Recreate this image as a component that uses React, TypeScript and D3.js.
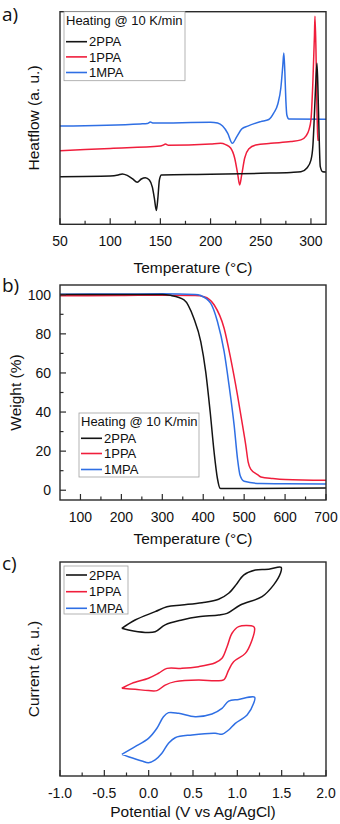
import React from 'react';
import * as d3 from 'd3';

type P = [number, number];

const seriesNames = ['2PPA', '1PPA', '1MPA'];
const seriesColors = ['#141414', '#f01e3c', '#2f6fe4'];
const legendTitle = 'Heating @ 10 K/min';

// Panel a: DSC (Temperature °C, heat flow a.u.)
const dscXTicks = [50, 100, 150, 200, 250, 300];
const dscXMinor = [75, 125, 175, 225, 275];
const dsc2PPA: P[] = [
  [50, 22.4], [100, 22.7], [108, 23.2], [112, 23.7], [117, 23.0], [122, 21.5], [127, 19.8],
  [131, 21.3], [135, 21.9], [139, 20.8], [142, 17.5], [144, 12.3], [146, 6.5], [147.5, 12.3],
  [149, 20.8], [151, 23.2], [200, 23.5], [250, 24.0], [280, 24.4], [290, 24.7], [296, 26.5],
  [300, 30.2], [302, 37.3], [303, 46.7], [304.5, 63.2], [306, 75.7], [307, 63.2], [308, 44.4],
  [309.3, 27.1], [311.7, 24.7], [315, 24.6],
];
const dsc1PPA: P[] = [
  [50, 34.6], [100, 35.7], [150, 36.8], [153, 37.3], [155, 37.8], [158, 37.2], [200, 37.8],
  [210, 38.1], [215, 37.5], [220, 35.9], [224, 31.2], [227, 23.7], [229, 18.5], [231, 23.2],
  [234, 31.2], [238, 35.4], [245, 37.3], [260, 38.1], [280, 38.9], [290, 39.7], [295, 41.5],
  [298, 44.4], [300, 49.1], [302, 67.9], [303.5, 89.0], [304, 97.9], [305, 82.0], [306, 53.7],
  [306.7, 42.0], [307.3, 39.2],
];
const dsc1MPA: P[] = [
  [50, 46.2], [130, 47.2], [137, 47.4], [140, 48.1], [143, 47.6], [200, 48.0], [207, 47.6],
  [212, 46.2], [217, 42.9], [221.7, 38.1], [226, 41.1], [231, 44.8], [237, 46.2], [250, 48.3],
  [258, 49.3], [263, 52.4], [267, 56.6], [270, 64.1], [272, 74.9], [273, 80.6], [274, 71.6],
  [275, 58.4], [276, 51.4], [278, 49.5], [315, 49.4],
];

// Panel b: TGA (Temperature °C, weight %)
const tgaXTicks = [100, 200, 300, 400, 500, 600, 700];
const tgaXMinor = [150, 250, 350, 450, 550, 650];
const tgaYTicks = [0, 20, 40, 60, 80, 100];
const tgaYMinor = [10, 30, 50, 70, 90];
const tga2PPA: P[] = [
  [50, 100.1], [200, 100.2], [300, 100.2], [320, 99.7], [353, 97.4], [377, 88], [394, 76],
  [406, 60.7], [417, 40], [426.5, 19.6], [434.7, 6], [441, 1.0], [445, 0.9], [700, 1.1],
];
const tga1PPA: P[] = [
  [50, 99.5], [200, 99.6], [300, 99.8], [380, 99.6], [402, 99.0], [426.5, 94.9], [451, 82.9],
  [467, 67.5], [483.7, 48.7], [496, 33.3], [504, 23], [509.7, 14.5], [516, 10.8], [532.6, 8.0],
  [541, 6.8], [570, 6.0], [600, 5.5], [700, 5.1],
];
const tga1MPA: P[] = [
  [50, 100.3], [200, 100.4], [300, 100.5], [380, 100.2], [394, 99.6], [418, 95.7], [434.7, 86.3],
  [451, 71], [463, 53.8], [475.5, 33.3], [483.7, 16.2], [490, 7.7], [500, 4.6], [540.8, 3.4],
  [600, 3.3], [700, 3.2],
];

// Panel c: CV (Potential V vs Ag/AgCl, current a.u.)
const cvXTicks = [-1.0, -0.5, 0.0, 0.5, 1.0, 1.5, 2.0];
const cvXTickLabels = ['-1.0', '-0.5', '0.0', '0.5', '1.0', '1.5', '2.0'];
const cvXMinor = [-0.75, -0.25, 0.25, 0.75, 1.25, 1.75];
const cv2PPA: P[] = [
  [-0.303, 6.90], [-0.153, 7.29], [0.073, 7.68], [0.206, 7.91], [0.375, 7.99], [0.601, 8.10],
  [0.789, 8.26], [0.902, 8.54], [0.997, 9.00], [1.071, 9.39], [1.203, 9.63], [1.354, 9.66],
  [1.494, 9.75], [1.486, 9.47], [1.410, 8.93], [1.279, 8.38], [1.034, 7.99], [0.884, 7.60],
  [0.789, 7.52], [0.563, 7.44], [0.375, 7.29], [0.186, 7.06], [0.073, 6.74], [-0.040, 6.71],
  [-0.228, 6.82], [-0.303, 6.90],
];
const cv1PPA: P[] = [
  [-0.303, 4.10], [-0.190, 4.33], [-0.002, 4.57], [0.111, 4.80], [0.206, 5.03], [0.375, 5.03],
  [0.563, 5.11], [0.751, 5.29], [0.827, 5.50], [0.884, 6.04], [0.940, 6.67], [1.015, 6.98],
  [1.184, 6.98], [1.195, 6.90], [1.166, 6.36], [1.090, 5.73], [0.958, 5.34], [0.902, 4.95],
  [0.845, 4.49], [0.751, 4.45], [0.563, 4.49], [0.299, 4.41], [0.186, 4.25], [0.093, 3.99],
  [-0.002, 3.99], [-0.153, 4.05], [-0.303, 4.10],
];
const cv1MPA: P[] = [
  [-0.303, 1.01], [-0.153, 1.37], [-0.002, 1.76], [0.093, 2.23], [0.167, 2.77], [0.224, 2.96],
  [0.337, 2.93], [0.525, 2.77], [0.714, 2.90], [0.827, 3.16], [0.902, 3.50], [1.015, 3.58],
  [1.195, 3.68], [1.184, 3.40], [1.110, 2.85], [0.977, 2.46], [0.902, 2.15], [0.827, 1.95],
  [0.751, 2.00], [0.488, 1.92], [0.299, 1.79], [0.224, 1.53], [0.149, 1.06], [0.073, 0.75],
  [-0.002, 0.62], [-0.077, 0.70], [-0.228, 0.90], [-0.303, 1.01],
];

const FONT = '"Liberation Sans", Arial, sans-serif';
const FRAME = '#2a2a2a';
const L = 60, R = 326;

type Frame = { top: number; bottom: number };

function XTicks({ x, f, majors, minors, labels }: { x: d3.ScaleLinear<number, number>; f: Frame; majors: number[]; minors: number[]; labels?: string[] }) {
  return (
    <g>
      {majors.map((v, i) => (
        <g key={'M' + i}>
          <line x1={x(v)} x2={x(v)} y1={f.bottom} y2={f.bottom - 6} stroke={FRAME} strokeWidth={1.2} />
          <text x={x(v)} y={f.bottom + 22} textAnchor="middle" fontSize={14} fontFamily={FONT} fill="#111">
            {labels ? labels[i] : String(v)}
          </text>
        </g>
      ))}
      {minors.map((v, i) => (
        <line key={'m' + i} x1={x(v)} x2={x(v)} y1={f.bottom} y2={f.bottom - 3.5} stroke={FRAME} strokeWidth={1.2} />
      ))}
    </g>
  );
}

function Legend({ x, y, w, h, title, rows }: { x: number; y: number; w: number; h: number; title?: string; rows: number[] }) {
  return (
    <g>
      <rect x={x} y={y} width={w} height={h} fill="#fff" stroke="#a0a0a0" strokeWidth={0.8} />
      {title && (
        <text x={x + 2} y={y + 13} fontSize={13} fontFamily={FONT} fill="#111">{title}</text>
      )}
      {seriesNames.map((n, i) => (
        <g key={n}>
          <line x1={x + 2} x2={x + 23} y1={rows[i]} y2={rows[i]} stroke={seriesColors[i]} strokeWidth={1.6} />
          <text x={x + 25} y={rows[i] + 4.6} fontSize={13} fontFamily={FONT} fill="#111">{n}</text>
        </g>
      ))}
    </g>
  );
}

function PanelA() {
  const f = { top: 11.7, bottom: 224.3 };
  const x = d3.scaleLinear().domain([50, 315]).range([L, R]);
  const y = d3.scaleLinear().domain([0, 100]).range([f.bottom, f.top]);
  const line = d3.line<P>().x(d => x(d[0])).y(d => y(d[1])).curve(d3.curveMonotoneX);
  const data = [dsc2PPA, dsc1PPA, dsc1MPA];
  return (
    <g>
      <text x={2} y={21} fontSize={19} fontFamily='"Open Sans", sans-serif' fill="#111">a)</text>
      <defs><clipPath id="ca"><rect x={L} y={f.top} width={R - L} height={f.bottom - f.top} /></clipPath></defs>
      <g clipPath="url(#ca)">
        {[2, 1, 0].map(i => (
          <path key={i} d={line(data[i]) || ''} fill="none" stroke={seriesColors[i]} strokeWidth={1.5} />
        ))}
      </g>
      <rect x={L} y={f.top} width={R - L} height={f.bottom - f.top} fill="none" stroke={FRAME} strokeWidth={1.4} />
      <XTicks x={x} f={f} majors={dscXTicks} minors={dscXMinor} />
      <Legend x={64} y={f.top} w={121} h={69} title={legendTitle} rows={[41.7, 56.9, 72.5]} />
      <text transform={`translate(39,${(f.top + f.bottom) / 2}) rotate(-90)`} textAnchor="middle" fontSize={15.5} fontFamily={FONT} fill="#111">Heatflow (a. u.)</text>
      <text x={(L + R) / 2} y={273} textAnchor="middle" fontSize={15.5} fontFamily={FONT} fill="#111">Temperature (°C)</text>
    </g>
  );
}

function PanelB() {
  const f = { top: 285, bottom: 500 };
  const x = d3.scaleLinear().domain([50, 700]).range([L, R]);
  const y = d3.scaleLinear().domain([-5, 105]).range([f.bottom, f.top]);
  const line = d3.line<P>().x(d => x(d[0])).y(d => y(d[1])).curve(d3.curveMonotoneX);
  const data = [tga2PPA, tga1PPA, tga1MPA];
  return (
    <g>
      <text x={2} y={292} fontSize={19} fontFamily='"Open Sans", sans-serif' fill="#111">b)</text>
      <defs><clipPath id="cb"><rect x={L} y={f.top} width={R - L} height={f.bottom - f.top} /></clipPath></defs>
      <g clipPath="url(#cb)">
        {[1, 2, 0].map(i => (
          <path key={i} d={line(data[i]) || ''} fill="none" stroke={seriesColors[i]} strokeWidth={1.5} />
        ))}
      </g>
      <rect x={L} y={f.top} width={R - L} height={f.bottom - f.top} fill="none" stroke={FRAME} strokeWidth={1.4} />
      <XTicks x={x} f={f} majors={tgaXTicks} minors={tgaXMinor} />
      {tgaYTicks.map(v => (
        <g key={'y' + v}>
          <line x1={L} x2={L + 6} y1={y(v)} y2={y(v)} stroke={FRAME} strokeWidth={1.2} />
          <text x={51} y={y(v) + 5} textAnchor="end" fontSize={14} fontFamily={FONT} fill="#111">{v}</text>
        </g>
      ))}
      {tgaYMinor.map(v => (
        <line key={'ym' + v} x1={L} x2={L + 3.5} y1={y(v)} y2={y(v)} stroke={FRAME} strokeWidth={1.2} />
      ))}
      <Legend x={79} y={413} w={120} h={64} title={legendTitle} rows={[438.3, 453.5, 469.5]} />
      <text transform={`translate(21,${(f.top + f.bottom) / 2}) rotate(-90)`} textAnchor="middle" fontSize={15.5} fontFamily={FONT} fill="#111">Weight (%)</text>
      <text x={(L + R) / 2} y={544} textAnchor="middle" fontSize={15.5} fontFamily={FONT} fill="#111">Temperature (°C)</text>
    </g>
  );
}

function PanelC() {
  const f = { top: 562, bottom: 776 };
  const x = d3.scaleLinear().domain([-1, 2]).range([L, R]);
  const y = d3.scaleLinear().domain([0, 10]).range([f.bottom, f.top]);
  const line = d3.line<P>().x(d => x(d[0])).y(d => y(d[1])).curve(d3.curveCatmullRom.alpha(0.5));
  const data = [cv2PPA, cv1PPA, cv1MPA];
  return (
    <g>
      <text x={2} y={570} fontSize={19} fontFamily='"Open Sans", sans-serif' fill="#111">c)</text>
      {[0, 1, 2].map(i => (
        <path key={i} d={line(data[i]) || ''} fill="none" stroke={seriesColors[i]} strokeWidth={1.5} strokeLinejoin="round" />
      ))}
      <rect x={L} y={f.top} width={R - L} height={f.bottom - f.top} fill="none" stroke={FRAME} strokeWidth={1.4} />
      <XTicks x={x} f={f} majors={cvXTicks} minors={cvXMinor} labels={cvXTickLabels} />
      <Legend x={64} y={566} w={64} h={48} rows={[575, 591.7, 608.3]} />
      <text transform={`translate(39,${(f.top + f.bottom) / 2}) rotate(-90)`} textAnchor="middle" fontSize={15.5} fontFamily={FONT} fill="#111">Current (a. u.)</text>
      <text x={(L + R) / 2} y={817} textAnchor="middle" fontSize={15.5} fontFamily={FONT} fill="#111">Potential (V vs Ag/AgCl)</text>
    </g>
  );
}

export default function App() {
  return (
    <svg width={340} height={824} viewBox="0 0 340 824" style={{ position: 'absolute', left: 0, top: 0, background: '#fff' }}>
      <rect x={0} y={0} width={340} height={824} fill="#fff" />
      <PanelA />
      <PanelB />
      <PanelC />
    </svg>
  );
}
